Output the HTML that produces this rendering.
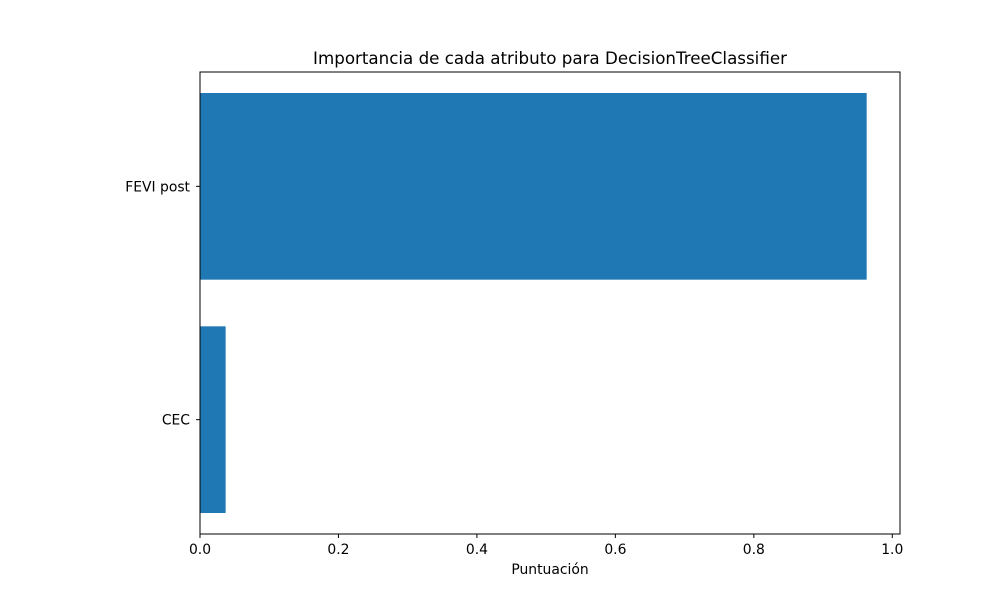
<!DOCTYPE html>
<html><head><meta charset="utf-8"><style>
body{margin:0;background:#fff}
svg{display:block;font-family:"DejaVu Sans","Liberation Sans",sans-serif}
</style></head><body>
<svg id="chart" width="1000" height="600">
<rect width="1000" height="600" fill="#fff"/>
</svg>
<script>
const categories = ["CEC", "FEVI post"];
const values = [0.037, 0.963];
const xTicks = [0, 0.2, 0.4, 0.6, 0.8, 1.0];
const xTickLabels = ["0.0", "0.2", "0.4", "0.6", "0.8", "1.0"];

const NS = "http://www.w3.org/2000/svg";
const svg = document.getElementById("chart");
const L = 200, R = 900, T = 72, B = 534;
const xmax = Math.max(...values) * 1.05;
const x = v => L + v / xmax * (R - L);
const ymin = -0.4 - 0.09, ymax = categories.length - 1 + 0.4 + 0.09;
const y = v => B - (v - ymin) / (ymax - ymin) * (B - T);
function mk(tag, attrs, parent) {
  const e = document.createElementNS(NS, tag);
  for (const k in attrs) e.setAttribute(k, attrs[k]);
  (parent || svg).appendChild(e);
  return e;
}
values.forEach((v, i) => {
  const r = mk("rect", {x: x(0), y: y(i + 0.4), width: x(v) - x(0), height: y(i - 0.4) - y(i + 0.4), fill: "#1f77b4"});
  
  
});
const frame = mk("rect", {x: L, y: T, width: R - L, height: B - T, fill: "none", stroke: "#000", "stroke-width": 1});


xTicks.forEach((t, i) => {
  const px = x(t);
  mk("line", {x1: px, x2: px, y1: B, y2: B + 4, stroke: "#000", "stroke-width": 1});
  const tx = mk("text", {x: px, y: B + 20, "text-anchor": "middle", "font-size": 13.9});
  tx.textContent = xTickLabels[i];
  
  
});
categories.forEach((c, i) => {
  const py = y(i);
  mk("line", {x1: L - 4, x2: L, y1: py, y2: py, stroke: "#000", "stroke-width": 1});
  const tx = mk("text", {x: L - 10, y: py + 5, "text-anchor": "end", "font-size": 13.9});
  tx.textContent = c;
  
  
});
const xt = mk("text", {x: (L + R) / 2, y: 574, "text-anchor": "middle", "font-size": 13.9});
xt.textContent = "Puntuación";


const title = mk("text", {x: (L + R) / 2, y: 64, "text-anchor": "middle", "font-size": 16.7});
title.textContent = "Importancia de cada atributo para DecisionTreeClassifier";


</script>
</body></html>
